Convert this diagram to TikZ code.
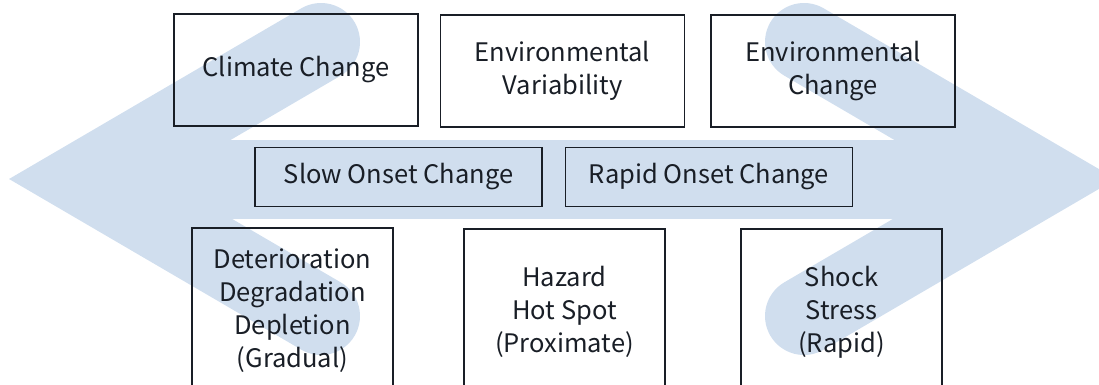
\documentclass[tikz,border=0pt]{standalone}
\usepackage{fontspec}
\setmainfont{Noto Sans CJK KR}
\definecolor{bandblue}{RGB}{208,222,238}
\definecolor{edgegray}{RGB}{25,30,38}
\begin{document}
\begin{tikzpicture}[x=1pt, y=-1pt,
  card/.style={draw=edgegray, line width=1.6pt, inner sep=0pt, align=center, text=edgegray, font=\fontsize{25.5}{33}\selectfont, minimum width=244pt, minimum height=112pt},
  onset/.style={draw=edgegray, line width=1.6pt, inner sep=0pt, align=center, text=edgegray, font=\fontsize{25.5}{33}\selectfont, minimum width=287pt, minimum height=59pt},
  effect/.style={draw=edgegray, line width=1.6pt, inner sep=0pt, align=center, text=edgegray, font=\fontsize{25.5}{33}\selectfont, minimum width=201pt, minimum height=166pt},
  chevron/.style={draw=bandblue, line width=78pt, line cap=round, line join=miter}
]
\clip (0,0) rectangle (1099,385);

% background double arrow
\draw[chevron] (321,42) -- (86.4,179) -- (321,316);
\draw[chevron] (804,42) -- (1038.6,179) -- (804,316);
\fill[bandblue] (160,139.5) rectangle (965,218.5);

% top row
\node[card] (climate) at (296,70) {Climate Change};
\node[card] (envvar) at (562.5,71) {Environmental\\Variability};
\node[card] (envchange) at (833,71) {Environmental\\Change};

% middle row
\node[onset] (slow) at (398.5,177) {Slow Onset Change};
\node[onset] (rapid) at (709,177) {Rapid Onset Change};

% bottom row
\node[effect] (gradual) at (292.5,311) {Deterioration\\Degradation\\Depletion\\(Gradual)};
\node[effect] (hazard) at (564.5,312) {Hazard\\Hot Spot\\(Proximate)};
\node[effect] (shock) at (841.5,312) {Shock\\Stress\\(Rapid)};
\end{tikzpicture}
\end{document}
